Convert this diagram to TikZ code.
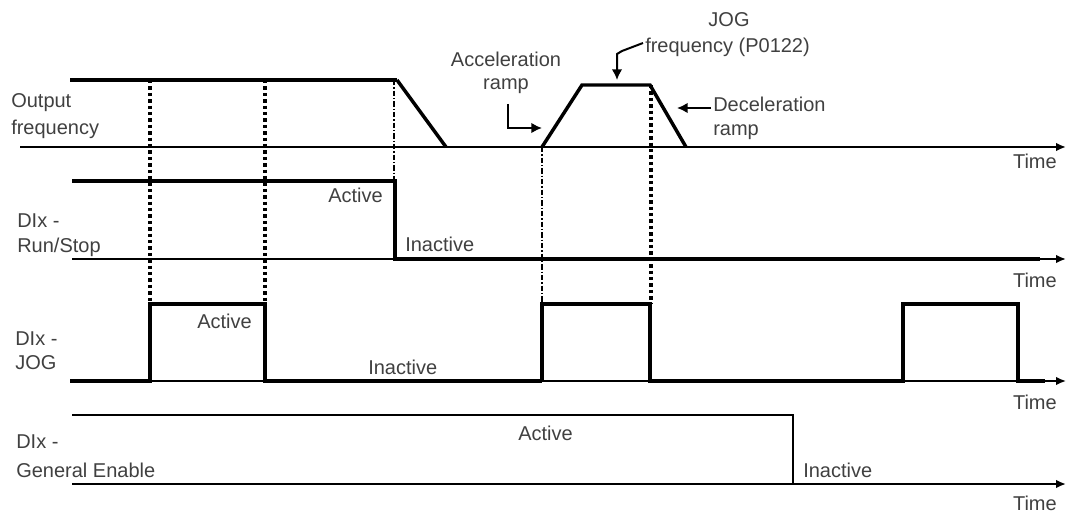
\documentclass[tikz,border=0pt]{standalone}
\usepackage{fontspec}
\setmainfont{Liberation Sans}
\usetikzlibrary{arrows.meta}
\begin{document}
\begin{tikzpicture}[x=0.75pt,y=-0.75pt,
  lbl/.style={font=\fontsize{15}{18}\selectfont, text=black!75, inner sep=0pt, anchor=base west},
  lblr/.style={lbl, anchor=base east},
  lblc/.style={lbl, anchor=base},
  axis/.style={line width=2pt, -{Latex[length=7.5pt,width=6.5pt]}},
  sig/.style={line width=2.6pt, line join=miter},
  guide/.style={line width=2.5pt, dash pattern=on 2.6pt off 2.2pt},
  guidedd/.style={line width=1pt, dash pattern=on 4pt off 1.5pt on 1pt off 1.5pt},
  note/.style={line width=1.5pt, -{Latex[length=8pt,width=8pt]}}]
\useasboundingbox (0,0) rectangle (1067,513);

% ---------- coordinates ----------
\coordinate (f0) at (20,147);   \coordinate (fE) at (1066,147);
\coordinate (r0) at (72,259);   \coordinate (rE) at (1066,259);
\coordinate (j0) at (70,381);   \coordinate (jE) at (1066,381);
\coordinate (g0) at (72,484);   \coordinate (gE) at (1066,484);

% ---------- guides ----------
\draw[guide] (150,80) -- (150,304);
\draw[guide] (265,80) -- (265,304);
\draw[guidedd] (394,80) -- (394,181);
\draw[guidedd] (542,147) -- (542,304);
\draw[guide] (651,85) -- (651,304);

% ---------- Output frequency ----------
\draw[axis, line width=2.2pt] (f0) -- (fE);
\draw[sig, line width=3pt] (70,80) -- (397,80);
\draw[sig] (397,80) -- (446,147);
\draw[sig] (542,147) -- (582,85) -- (650,85) -- (686,147);

% ---------- Run/Stop ----------
\draw[axis, line width=1.7pt] (r0) -- (rE);
\draw[sig] (72,181) -- (395,181) -- (395,259) -- (1040,259);

% ---------- JOG ----------
\draw[axis, line width=1.3pt] (j0) -- (jE);
\draw[sig, line width=3pt] (70,381) -- (150,381) -- (150,304) -- (265,304) -- (265,381) -- (542,381);
\draw[sig, line width=2.3pt] (542,381) -- (542,304) -- (650,304) -- (650,381) -- (903,381)
   -- (903,304) -- (1018,304) -- (1018,381) -- (1045,381);

% ---------- General Enable ----------
\draw[axis] (g0) -- (gE);
\draw[sig, line width=2.2pt] (72,415) -- (793,415) -- (793,484);

% ---------- labels ----------
\node[lbl] (of1) at (11,108) {Output};
\node[lbl] (of2) at (11,135) {frequency};
\node[lbl] (rs1) at (17,228) {DIx -};
\node[lbl] (rs2) at (17,253) {Run/Stop};
\node[lbl] (jg1) at (15,345) {DIx -};
\node[lbl] (jg2) at (15,369) {JOG};
\node[lbl] (ge1) at (16,448) {DIx -};
\node[lbl] (ge2) at (16,477) {General Enable};

\node[lblr] (t1) at (1057,169) {Time};
\node[lblr] (t2) at (1057,287) {Time};
\node[lblr] (t3) at (1057,409) {Time};
\node[lblr] (t4) at (1057,510) {Time};

\node[lblr] (rsA) at (383,203) {Active};
\node[lbl]  (rsI) at (405,252) {Inactive};
\node[lbl]  (jgA) at (197,328) {Active};
\node[lbl]  (jgI) at (368,374) {Inactive};
\node[lbl]  (geA) at (518,440) {Active};
\node[lbl]  (geI) at (803,477) {Inactive};

\node[lblc] (acc1) at (506,67) {Acceleration};
\node[lblc] (acc2) at (506,90) {ramp};
\node[lblc] (jf1) at (729,27) {JOG};
\node[lbl]  (jf2) at (645,53) {frequency (P0122)};
\node[lbl]  (dec1) at (713,112) {Deceleration};
\node[lbl]  (dec2) at (713,136) {ramp};

% ---------- pointer arrows ----------
\coordinate (accS) at (508,104);
\coordinate (accT) at (542,128);
\draw[note] (accS) -- (508,128) -- (accT);
\coordinate (jfS) at (643,43);
\coordinate (jfT) at (617,80);
\draw[note] (jfS) -- (622,51) -- (617,54) -- (jfT);
\coordinate (decS) at (711,108);
\coordinate (decT) at (677,108);
\draw[note] (decS) -- (decT);
\end{tikzpicture}
\end{document}
